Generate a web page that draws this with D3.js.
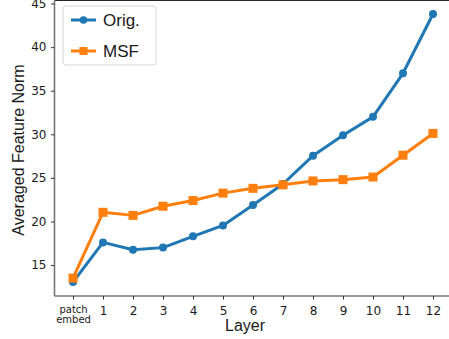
<!DOCTYPE html>
<meta charset="utf-8">
<style>
body { margin: 0; background: #fff; }
text { font-family: "DejaVu Sans", sans-serif; fill: #1a1a1a; }
.lbl { font-family: "Liberation Sans", Arial, sans-serif; }
</style>
<body>
<script src="https://d3js.org/d3.v7.min.js"></script>
<script>

// data
var layers = ["patch embed", "1", "2", "3", "4", "5", "6", "7", "8", "9", "10", "11", "12"];
var orig = [13.05, 17.6, 16.75, 17.0, 18.3, 19.55, 21.9, 24.3, 27.55, 29.9, 32.0, 37.0, 43.8];
var msf = [13.5, 21.05, 20.7, 21.75, 22.4, 23.25, 23.8, 24.2, 24.65, 24.8, 25.1, 27.6, 30.1];
var yTicks = [15, 20, 25, 30, 35, 40, 45];

var W = 449, H = 339;
var margin = {top: 0.5, right: -20, bottom: 43, left: 54.5},
    width = W - margin.left - margin.right,
    height = H - margin.top - margin.bottom;

var svg = d3.select("body").append("svg")
    .attr("width", W)
    .attr("height", H);

var g = svg.append("g")
    .attr("transform", "translate(" + margin.left + "," + margin.top + ")");

// x: category index, spacing ~30px
var x = d3.scaleLinear().domain([-0.617, 13.2]).range([0, width]);
var y = d3.scaleLinear().domain([11.45, 45.35]).range([height, 0]);

// frame: top spine dark, left/bottom grey
g.append("line")
    .attr("x1", 0).attr("x2", width).attr("y1", 0).attr("y2", 0)
    .attr("stroke", "#262626").attr("stroke-width", 1.2);

var xAxis = g.append("g")
    .attr("transform", "translate(0," + height + ")")
    .call(d3.axisBottom(x).tickValues(d3.range(layers.length)).tickSize(3.5).tickFormat(""));
xAxis.select(".domain").attr("d", "M0,0H" + width).attr("stroke", "#777").attr("stroke-width", 1.6);
xAxis.selectAll(".tick line").attr("stroke", "#333");

xAxis.selectAll(".tick").each(function(d, i) {
  var t = d3.select(this);
  if (i === 0) {
    var lab = t.append("text").attr("text-anchor", "middle").style("font-size", "10px");
    lab.append("tspan").attr("x", 0).attr("y", 17).text("patch");
    lab.append("tspan").attr("x", 0).attr("y", 27).text("embed");
  } else {
    t.append("text").attr("text-anchor", "middle").attr("y", 19)
      .style("font-size", "12px").text(layers[i]);
  }
});

var yAxis = g.append("g")
    .call(d3.axisLeft(y).tickValues(yTicks).tickSize(3.5).tickFormat(d3.format("d")));
yAxis.select(".domain").attr("d", "M0," + height + "V0").attr("stroke", "#777").attr("stroke-width", 1.6);
yAxis.selectAll(".tick line").attr("stroke", "#333");
yAxis.selectAll(".tick text").attr("x", -8).style("font-size", "12px").style("font-family", "DejaVu Sans").attr("fill", "#1a1a1a");

// axis labels
svg.append("text").attr("class", "lbl")
    .attr("x", 245).attr("y", 331)
    .attr("text-anchor", "middle")
    .style("font-size", "16px")
    .text("Layer");

svg.append("text").attr("class", "lbl")
    .attr("transform", "translate(24,150) rotate(-90)")
    .attr("text-anchor", "middle")
    .style("font-size", "16px")
    .text("Averaged Feature Norm");

var blue = "#1f77b4", orange = "#ff7f0e";

var line = d3.line()
    .x(function(d, i) { return x(i); })
    .y(function(d) { return y(d); });

// Orig.
g.append("path").datum(orig)
    .attr("fill", "none").attr("stroke", blue).attr("stroke-width", 3)
    .attr("stroke-linejoin", "round").attr("d", line);
g.selectAll(".dot").data(orig).enter().append("circle")
    .attr("cx", function(d, i) { return x(i); })
    .attr("cy", function(d) { return y(d); })
    .attr("r", 4).attr("fill", blue);

// MSF
g.append("path").datum(msf)
    .attr("fill", "none").attr("stroke", orange).attr("stroke-width", 3)
    .attr("stroke-linejoin", "round").attr("d", line);
g.selectAll(".sq").data(msf).enter().append("rect")
    .attr("x", function(d, i) { return x(i) - 4.5; })
    .attr("y", function(d) { return y(d) - 4.5; })
    .attr("width", 9).attr("height", 9).attr("fill", orange);

// legend
var leg = svg.append("g").attr("transform", "translate(63,6)");
leg.append("rect")
    .attr("width", 93).attr("height", 59).attr("rx", 3)
    .attr("fill", "#fff").attr("stroke", "#d6d6d6");

var items = [{name: "Orig.", c: blue, sq: false}, {name: "MSF", c: orange, sq: true}];
items.forEach(function(d, i) {
  var yy = 14 + i * 31;
  leg.append("line").attr("x1", 8).attr("x2", 33).attr("y1", yy).attr("y2", yy)
    .attr("stroke", d.c).attr("stroke-width", 3);
  if (d.sq) {
    leg.append("rect").attr("x", 16.5).attr("y", yy - 4).attr("width", 8).attr("height", 8).attr("fill", d.c);
  } else {
    leg.append("circle").attr("cx", 20.5).attr("cy", yy).attr("r", 3.8).attr("fill", d.c);
  }
  leg.append("text").attr("class", "lbl").attr("x", 40).attr("y", yy + 6)
    .style("font-size", "17px").text(d.name);
});

</script>
</body>
